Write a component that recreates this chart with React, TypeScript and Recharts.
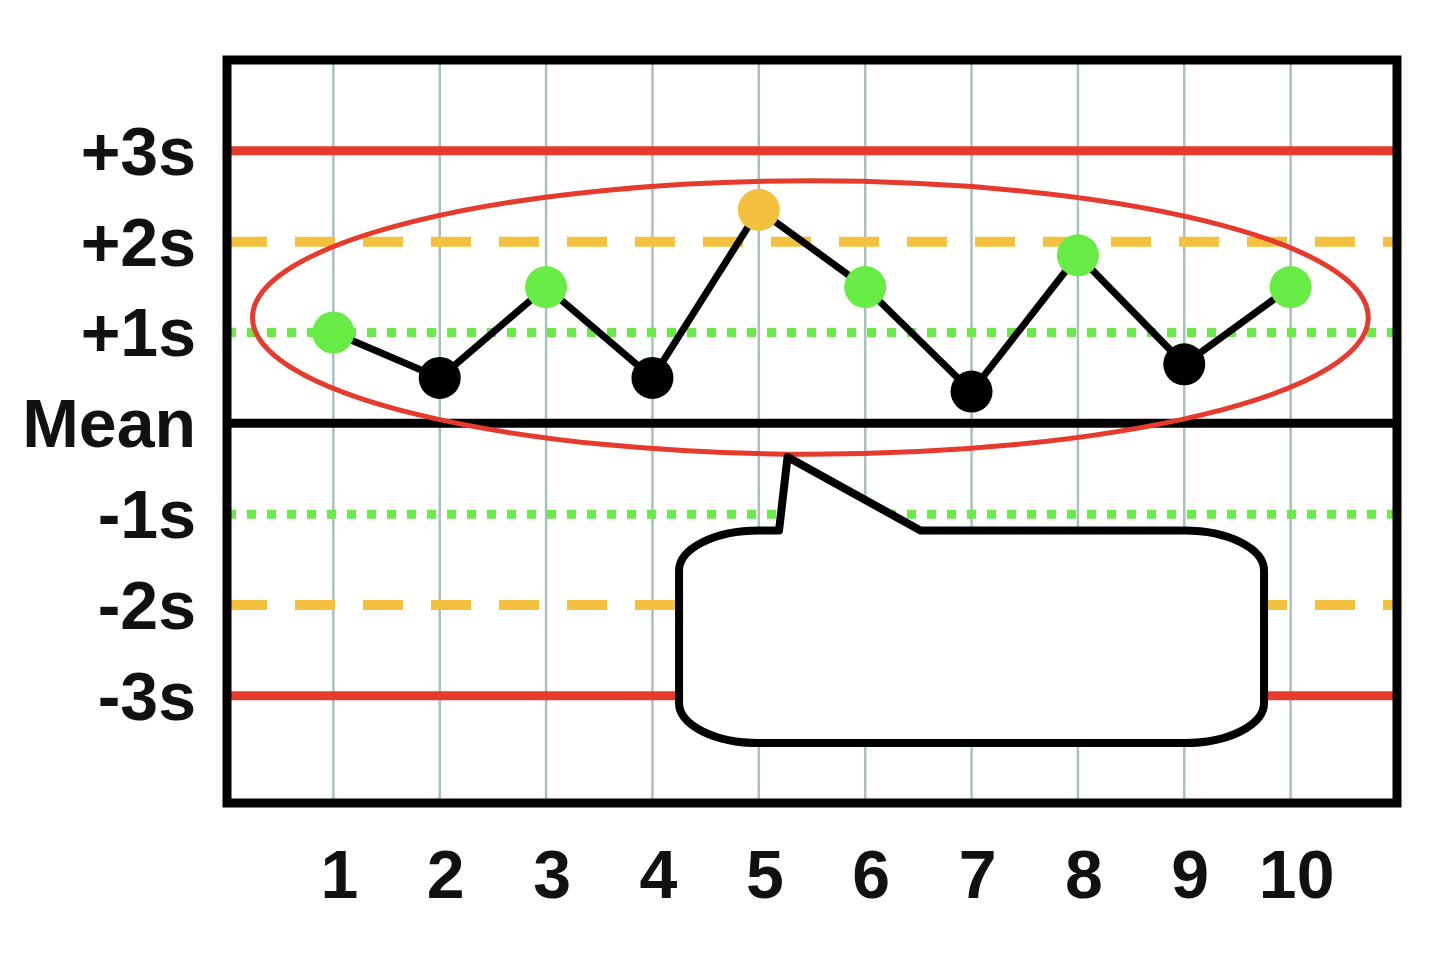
import React from 'react';
import { ComposedChart, Line, XAxis, YAxis, CartesianGrid, ReferenceLine, ReferenceArea } from 'recharts';

// control run values, in SD units from the mean
const runs = [1, 2, 3, 4, 5, 6, 7, 8, 9, 10];
const values = [1.0, 0.5, 1.5, 0.5, 2.35, 1.5, 0.35, 1.85, 0.65, 1.5];

const sdTicks = [3, 2, 1, 0, -1, -2, -3];
const sdLabels = ['+3s', '+2s', '+1s', 'Mean', '-1s', '-2s', '-3s'];

const X_DOMAIN = [0, 11];
const Y_DOMAIN = [-4.18, 4];

// annotation extents (data units)
const ringX = [0.24, 10.73];
const ringY = [-0.34, 2.67];
const bubbleX = [4.25, 9.75];
const bubbleY = [-3.52, -1.18];
const tailTip = { x: 5.27, y: -0.37 };
const tailBase = [5.19, 6.52];

const RED = '#e63a2d';
const ORANGE = '#f4c13e';
const GREEN = '#66ec44';
const FONT = '"Liberation Sans", Arial, Helvetica, sans-serif';

const data = runs.map((run, i) => ({ run, value: values[i] }));

const dotColor = (v: number) => (v > 2 ? ORANGE : v >= 1 ? GREEN : '#000');

const RunDot = (props: any) => {
  const { cx, cy, payload } = props;
  if (cx == null || cy == null) return null;
  return <circle key={`d-${payload.run}`} cx={cx} cy={cy} r={21} fill={dotColor(payload.value)} />;
};

const YTick = (props: any) => {
  const { x, y, payload } = props;
  const idx = sdTicks.indexOf(payload.value);
  return (
    <text x={x - 31} y={y + 24} textAnchor="end" fontSize={68} fontWeight="bold" fontFamily={FONT} fill="#111">
      {sdLabels[idx]}
    </text>
  );
};

const XTick = (props: any) => {
  const { x, y, payload } = props;
  return (
    <text x={x + 6} y={y + 95} textAnchor="middle" fontSize={68} fontWeight="bold" fontFamily={FONT} fill="#111">
      {payload.value}
    </text>
  );
};

const Ring = (p: any) => (
  <ellipse
    cx={p.x + p.width / 2}
    cy={p.y + p.height / 2}
    rx={p.width / 2}
    ry={p.height / 2}
    fill="none"
    stroke={RED}
    strokeWidth={5}
  />
);

const Bubble = (p: any) => {
  const [x0, x1] = bubbleX;
  const top = tailTip.y;
  const bottom = bubbleY[0];
  const px = (v: number) => p.x + ((v - x0) / (x1 - x0)) * p.width;
  const py = (v: number) => p.y + ((top - v) / (top - bottom)) * p.height;
  const L = px(x0);
  const R = px(x1);
  const T = py(bubbleY[1]);
  const B = py(bubbleY[0]);
  const rx = 80;
  const ry = 40;
  const d = [
    `M ${px(tailBase[0])} ${T}`,
    `L ${px(tailTip.x)} ${py(tailTip.y)}`,
    `L ${px(tailBase[1])} ${T}`,
    `H ${R - rx}`,
    `A ${rx} ${ry} 0 0 1 ${R} ${T + ry}`,
    `V ${B - ry}`,
    `A ${rx} ${ry} 0 0 1 ${R - rx} ${B}`,
    `H ${L + rx}`,
    `A ${rx} ${ry} 0 0 1 ${L} ${B - ry}`,
    `V ${T + ry}`,
    `A ${rx} ${ry} 0 0 1 ${L + rx} ${T}`,
    'Z',
  ].join(' ');
  return <path d={d} fill="#fff" stroke="#000" strokeWidth={8} strokeLinejoin="round" />;
};

const App: React.FC = () => {
  return (
    <div style={{ width: 1424, height: 945, background: '#fff' }}>
      <ComposedChart width={1424} height={945} data={data} margin={{ top: 52, right: 35, bottom: 0, left: 0 }}>
        <CartesianGrid horizontal={false} stroke="#a9bfc0" strokeWidth={2.5} zIndex={-100} />
        <XAxis
          type="number"
          dataKey="run"
          domain={X_DOMAIN}
          ticks={runs}
          tick={<XTick />}
          axisLine={false}
          tickLine={false}
          tickSize={0}
          tickMargin={0}
          height={150}
          interval={0}
        />
        <YAxis
          type="number"
          domain={Y_DOMAIN}
          ticks={sdTicks}
          tick={<YTick />}
          axisLine={false}
          tickLine={false}
          tickSize={0}
          tickMargin={0}
          width={219}
          interval={0}
          allowDataOverflow
        />
        <ReferenceLine y={3} stroke={RED} strokeWidth={9} zIndex={50} />
        <ReferenceLine y={-3} stroke={RED} strokeWidth={9} zIndex={50} />
        <ReferenceLine y={2} stroke={ORANGE} strokeWidth={10} strokeDasharray="40 28" zIndex={50} />
        <ReferenceLine y={-2} stroke={ORANGE} strokeWidth={10} strokeDasharray="40 28" zIndex={50} />
        <ReferenceLine y={1} stroke={GREEN} strokeWidth={9} strokeDasharray="9 11" zIndex={50} />
        <ReferenceLine y={-1} stroke={GREEN} strokeWidth={9} strokeDasharray="9 11" zIndex={50} />
        <ReferenceLine y={0} stroke="#000" strokeWidth={9} zIndex={60} />
        <ReferenceArea x1={ringX[0]} x2={ringX[1]} y1={ringY[0]} y2={ringY[1]} shape={Ring} zIndex={70} />
        <Line
          type="linear"
          dataKey="value"
          stroke="#000"
          strokeWidth={7}
          dot={<RunDot />}
          activeDot={false}
          isAnimationActive={false}
          zIndex={400}
        />
        <ReferenceArea
          x1={bubbleX[0]}
          x2={bubbleX[1]}
          y1={bubbleY[0]}
          y2={tailTip.y}
          shape={Bubble}
          zIndex={1500}
        />
        <ReferenceArea
          x1={X_DOMAIN[0]}
          x2={X_DOMAIN[1]}
          y1={Y_DOMAIN[0]}
          y2={Y_DOMAIN[1]}
          fill="none"
          stroke="#000"
          strokeWidth={9}
          zIndex={1600}
        />
      </ComposedChart>
    </div>
  );
};

export default App;
